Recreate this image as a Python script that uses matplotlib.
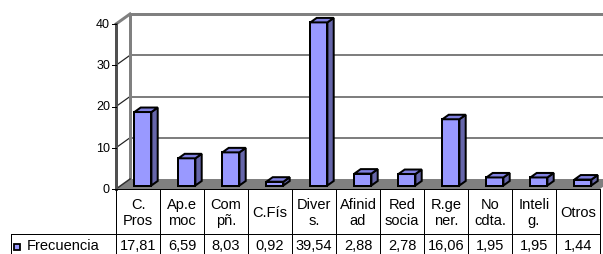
import matplotlib
matplotlib.use('Agg')
import matplotlib.pyplot as plt
from matplotlib.patches import Polygon, Rectangle

plt.rcParams['font.family'] = ['Liberation Sans', 'DejaVu Sans']

# datos
categorias = ['C.\nPros', 'Ap.e\nmoc', 'Com\npñ.', 'C.Fís', 'Diver\ns.', 'Afinid\nad',
              'Red\nsocia', 'R.ge\nner.', 'No\ncdta.', 'Inteli\ng.', 'Otros']
frecuencia = [17.81, 6.59, 8.03, 0.92, 39.54, 2.88, 2.78, 16.06, 1.95, 1.95, 1.44]
yticks = [0, 10, 20, 30, 40]
serie = 'Frecuencia'

# escala: 44 px por categoria, 4.125 px por unidad, origen en (116, 190) px
CW = 44.0
VH = 4.125
X0 = 116.0
Y0 = 190.0
W, H = 603, 255


def px(p):
    return (p - X0) / CW


def py(p):
    return (Y0 - p) / VH


DX = 14 / CW   # profundidad 3d
DY = 10 / VH
n = len(frecuencia)

fig = plt.figure(figsize=(W / 100, H / 100), dpi=100)
ax = fig.add_axes([0, 0, 1, 1])
ax.set_xlim(px(0), px(W))
ax.set_ylim(py(H), py(0))
ax.axis('off')

GRAY = '#808080'
PT = 0.72  # 1 px en puntos
FS = 10.5

# pared del fondo y lineas de division
ymax = yticks[-1]
for t in yticks[1:-1]:
    ax.plot([DX, px(W)], [t + DY, t + DY], color='#606060', lw=1.6 * PT, zorder=1)
    ax.plot([0, DX], [t, t + DY], color='#202020', lw=1.2 * PT, zorder=1)
ax.plot([DX, px(W)], [ymax + DY, ymax + DY], color=GRAY, lw=3 * PT, zorder=2,
        solid_capstyle='butt')
ax.plot([DX, DX], [DY, ymax + DY], color=GRAY, lw=3 * PT, zorder=2)
ax.plot([0, DX], [ymax, ymax + DY], color=GRAY, lw=3 * PT, zorder=2)

# suelo
ax.add_patch(Polygon([(0, 0), (n, 0), (n + DX, DY), (DX, DY)], closed=True,
                     facecolor=GRAY, edgecolor='none', zorder=2))
ax.plot([0, DX], [0, DY], color='#303030', lw=1.5 * PT, zorder=3)

# eje vertical
ax.plot([0, 0], [0, ymax], color='#505050', lw=3 * PT, zorder=3)
for t in yticks:
    ax.plot([px(112), 0], [t, t], color='black', lw=1 * PT, zorder=3)
    ax.text(px(110), t, str(t), ha='right', va='center', fontsize=9, zorder=3)

# barras
bw = 17 / CW
d0, d1 = 0.35, 0.8
ox, oy = (d1 - d0) * DX, (d1 - d0) * DY
for i, v in enumerate(frecuencia):
    x0 = i + 0.5 - bw / 2 + d0 * DX
    y0 = d0 * DY
    kw = dict(closed=True, edgecolor='black', lw=2 * PT, joinstyle='miter', zorder=5)
    ax.add_patch(Polygon([(x0, y0), (x0 + bw, y0), (x0 + bw, y0 + v), (x0, y0 + v)],
                         facecolor='#9999FF', **kw))
    ax.add_patch(Polygon([(x0 + bw, y0), (x0 + bw + ox, y0 + oy),
                          (x0 + bw + ox, y0 + v + oy), (x0 + bw, y0 + v)],
                         facecolor='#6666AA', **kw))
    ax.add_patch(Polygon([(x0, y0 + v), (x0 + bw, y0 + v),
                          (x0 + bw + ox, y0 + v + oy), (x0 + ox, y0 + v + oy)],
                         facecolor='#8080E0', **kw))

# tabla de datos
yh = py(235)
ybot = py(H)
lw_t = 1 * PT
xl = px(11.5)
ax.plot([0, n], [0, 0], color='black', lw=lw_t, zorder=6)
ax.plot([xl, n], [yh, yh], color='black', lw=lw_t, zorder=6)
for i in range(n + 1):
    ax.plot([i, i], [0, ybot], color='black', lw=lw_t, zorder=6)
ax.plot([xl, xl], [yh, ybot], color='black', lw=lw_t, zorder=6)

for i, (c, v) in enumerate(zip(categorias, frecuencia)):
    ax.text(i + 0.5, py(213), c, ha='center', va='center', fontsize=FS,
            linespacing=1.15, zorder=6)
    ax.text(i + 0.5, py(246.5), f'{v:.2f}'.replace('.', ','), ha='center',
            va='center', fontsize=FS, zorder=6)

ax.add_patch(Rectangle((px(14), py(251)), 6 / CW, 6 / VH, facecolor='#9999FF',
                       edgecolor='black', lw=1.8 * PT, zorder=6))
ax.text(px(27), py(246.5), serie, ha='left', va='center', fontsize=FS, zorder=6)

fig.savefig('out.png', dpi=100)
